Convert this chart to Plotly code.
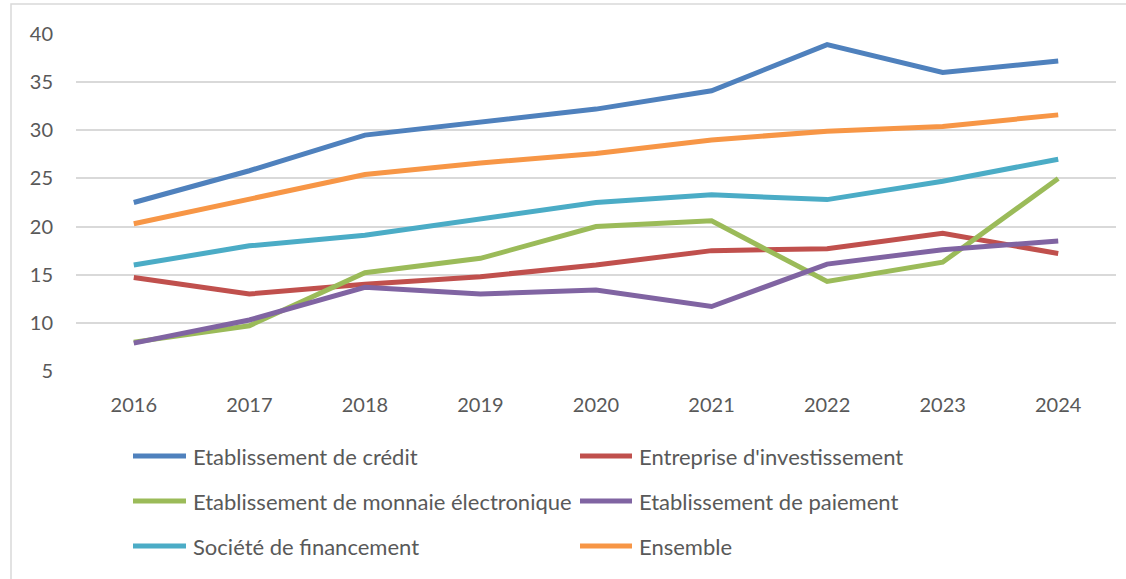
import plotly.graph_objects as go

years = ["2016", "2017", "2018", "2019", "2020", "2021", "2022", "2023", "2024"]
credit = [22.5, 25.8, 29.5, 30.9, 32.2, 34.1, 38.9, 36.0, 37.2]
invest = [14.7, 13.0, 14.0, 14.8, 16.0, 17.5, 17.7, 19.3, 17.2]
monnaie = [8.0, 9.7, 15.2, 16.7, 20.0, 20.6, 14.3, 16.3, 25.0]
paiement = [7.9, 10.3, 13.7, 13.0, 13.4, 11.7, 16.1, 17.6, 18.5]
financement = [16.0, 18.0, 19.1, 20.8, 22.5, 23.3, 22.8, 24.7, 27.0]
ensemble = [20.3, 22.8, 25.4, 26.6, 27.6, 29.0, 29.9, 30.4, 31.6]

names = ["Etablissement de crédit", "Entreprise d'investissement",
         "Etablissement de monnaie électronique", "Etablissement de paiement",
         "Société de financement", "Ensemble"]
series = [credit, invest, monnaie, paiement, financement, ensemble]
colors = ["#4F81BD", "#C0504D", "#9BBB59", "#8064A2", "#4BACC6", "#F79646"]

W, H = 1126, 579
L, R, T, B = 76, 10, 34, 208
pw, ph = W - L - R, H - T - B

def px(x):
    return (x - L) / pw

def py(y):
    return (H - B - y) / ph

fig = go.Figure()
for n, s, c in zip(names, series, colors):
    fig.add_trace(go.Scatter(x=years, y=s, name=n, mode="lines",
                             line=dict(color=c, width=5), showlegend=False))

font = "Lato"
txt = "#595959"
shapes = []
annotations = []
# border
shapes.append(dict(type="rect", xref="paper", yref="paper",
                   x0=px(11), x1=px(1140), y0=py(590), y1=py(4),
                   line=dict(color="#D9D9D9", width=1.5), fillcolor="rgba(0,0,0,0)", layer="below"))
# manual legend
rows = [456, 501, 546]
cols = [(133, 186, 191), (580, 632, 637)]
for i, (n, c) in enumerate(zip(names, colors)):
    r = rows[i // 2]
    x0, x1, xt = cols[i % 2]
    shapes.append(dict(type="line", xref="paper", yref="paper",
                       x0=px(x0), x1=px(x1), y0=py(r), y1=py(r),
                       line=dict(color=c, width=5)))
    annotations.append(dict(xref="paper", yref="paper", x=px(xt), y=py(r),
                            xanchor="left", yanchor="middle", showarrow=False,
                            text=n, font=dict(family=font, size=22, color=txt)))

fig.update_layout(
    width=W, height=H,
    margin=dict(l=L, r=R, t=T, b=B, pad=0),
    plot_bgcolor="white", paper_bgcolor="white",
    font=dict(family=font, size=20, color=txt),
    shapes=shapes, annotations=annotations,
    showlegend=False,
    xaxis=dict(type="category", range=[-0.5, len(years) - 0.5], showgrid=False,
               zeroline=False, showline=False, ticks="", ticklabelstandoff=20,
               tickfont=dict(size=20, color=txt)),
    yaxis=dict(range=[5, 40], tick0=5, dtick=5, showgrid=True, gridcolor="#D9D9D9",
               gridwidth=1.5, zeroline=False, showline=False, ticks="",
               ticklabelstandoff=22, tickfont=dict(size=20, color=txt)),
)
fig.write_html("out.html", config={"displayModeBar": False},
               post_script="document.body.style.margin='0';")
